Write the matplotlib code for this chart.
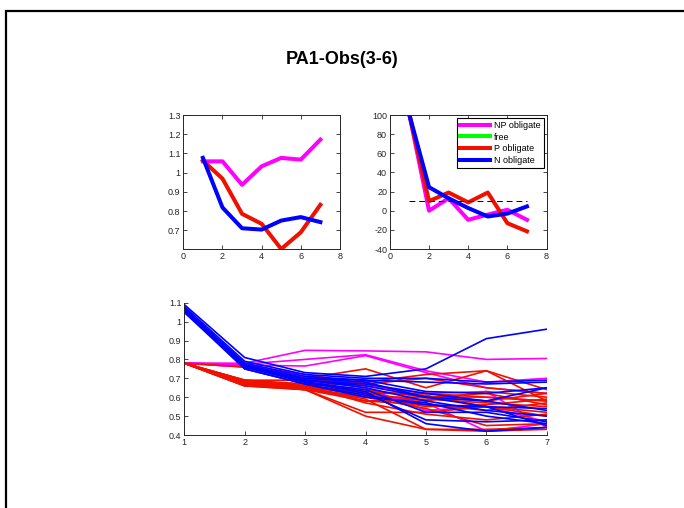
import matplotlib
matplotlib.use('Agg')
import matplotlib.pyplot as plt
from matplotlib.patches import Rectangle

plt.rcParams['font.family'] = ['Liberation Sans', 'DejaVu Sans']
plt.rcParams['xtick.direction'] = 'in'
plt.rcParams['ytick.direction'] = 'in'
plt.rcParams['axes.unicode_minus'] = False

# DATA
x = [1, 2, 3, 4, 5, 6, 7]

# top left: group means
np_mean = [1.059, 1.059, 0.937, 1.033, 1.077, 1.068, 1.172]
p_mean = [1.063, 0.969, 0.786, 0.734, 0.603, 0.690, 0.833]
n_mean = [1.077, 0.819, 0.711, 0.704, 0.751, 0.769, 0.743]

# top right: percent change
np_pct = [100, 0, 13, -9.5, -4, 1, -9.5]
free_pct = []
p_pct = [100, 10, 19, 8.7, 19, -13, -21.5]
n_pct = [100, 24.6, 13, 2.8, -6, -3, 4.5]
thresh = 10

# bottom: individual series
np_lines = [
    [0.78, 0.78, 0.848, 0.845, 0.84, 0.80, 0.805],
    [0.78, 0.775, 0.80, 0.825, 0.74, 0.68, 0.70],
    [0.78, 0.77, 0.765, 0.82, 0.73, 0.65, 0.62],
    [0.78, 0.77, 0.72, 0.67, 0.60, 0.60, 0.58],
    [0.78, 0.76, 0.70, 0.65, 0.53, 0.55, 0.47],
    [0.78, 0.76, 0.69, 0.62, 0.57, 0.42, 0.46],
    [0.78, 0.77, 0.71, 0.66, 0.62, 0.63, 0.44],
]
p_lines = [
    [0.78, 0.76, 0.70, 0.75, 0.65, 0.74, 0.64],
    [0.78, 0.69, 0.69, 0.68, 0.72, 0.74, 0.58],
    [0.78, 0.68, 0.67, 0.67, 0.70, 0.65, 0.62],
    [0.78, 0.67, 0.66, 0.62, 0.62, 0.60, 0.58],
    [0.78, 0.67, 0.65, 0.60, 0.60, 0.62, 0.56],
    [0.78, 0.66, 0.65, 0.58, 0.59, 0.57, 0.55],
    [0.78, 0.67, 0.64, 0.52, 0.52, 0.55, 0.52],
    [0.78, 0.66, 0.64, 0.50, 0.43, 0.43, 0.44],
    [0.78, 0.67, 0.65, 0.59, 0.43, 0.42, 0.43],
    [0.78, 0.69, 0.66, 0.57, 0.51, 0.48, 0.51],
    [0.78, 0.68, 0.65, 0.62, 0.58, 0.63, 0.60],
    [0.78, 0.67, 0.66, 0.61, 0.55, 0.56, 0.59],
    [0.78, 0.68, 0.64, 0.60, 0.54, 0.45, 0.46],
    [0.78, 0.69, 0.67, 0.64, 0.60, 0.58, 0.62],
    [0.78, 0.66, 0.64, 0.58, 0.56, 0.53, 0.57],
    [0.78, 0.68, 0.66, 0.63, 0.61, 0.55, 0.50],
]
n_lines = [
    [1.09, 0.81, 0.73, 0.71, 0.75, 0.91, 0.96],
    [1.08, 0.79, 0.72, 0.70, 0.70, 0.68, 0.69],
    [1.07, 0.78, 0.71, 0.69, 0.68, 0.67, 0.68],
    [1.07, 0.77, 0.70, 0.69, 0.63, 0.62, 0.65],
    [1.06, 0.77, 0.70, 0.68, 0.60, 0.58, 0.65],
    [1.06, 0.76, 0.69, 0.66, 0.60, 0.55, 0.54],
    [1.06, 0.76, 0.69, 0.65, 0.58, 0.53, 0.50],
    [1.05, 0.76, 0.68, 0.64, 0.52, 0.52, 0.47],
    [1.06, 0.76, 0.68, 0.63, 0.46, 0.42, 0.44],
    [1.07, 0.77, 0.68, 0.62, 0.48, 0.47, 0.48],
    [1.06, 0.75, 0.67, 0.60, 0.57, 0.50, 0.46],
    [1.05, 0.75, 0.67, 0.61, 0.56, 0.55, 0.45],
    [1.06, 0.76, 0.69, 0.67, 0.62, 0.58, 0.53],
]

MAG = '#FF00FF'
RED = '#F01000'
BLUE = '#0000FF'
GREEN = '#00FF00'
TICK_FS = 6.5

fig = plt.figure(figsize=(6.84, 5.08), dpi=100)

# outer frame like the exported figure window
fig.patches.append(Rectangle((6 / 684, -0.1), 1.1, (508 - 11) / 508 + 0.1,
                             transform=fig.transFigure, fill=False,
                             edgecolor='black', linewidth=1.6, zorder=0))

fig.text(0.5, 1 - 60 / 508, 'PA1-Obs(3-6)', ha='center', va='center',
         fontsize=13, fontweight='bold')


def style(ax, box=True):
    ax.tick_params(labelsize=TICK_FS, length=3, width=0.6, pad=2,
                   top=box, right=box, colors='#262626')
    for s in ax.spines.values():
        s.set_linewidth(0.7)
        s.set_color('#262626')
    if not box:
        ax.spines['top'].set_visible(False)
        ax.spines['right'].set_visible(False)


# top left
ax1 = fig.add_axes([0.268, 0.5098, 0.229, 0.2638])
ax1.plot(x, np_mean, color=MAG, lw=2.9)
ax1.plot(x, p_mean, color=RED, lw=2.9)
ax1.plot(x, n_mean, color=BLUE, lw=2.9)
ax1.set_xlim(0, 8)
ax1.set_ylim(0.603, 1.3)
ax1.set_xticks([0, 2, 4, 6, 8])
ax1.set_yticks([0.7, 0.8, 0.9, 1.0, 1.1, 1.2, 1.3])
ax1.set_yticklabels(['0.7', '0.8', '0.9', '1', '1.1', '1.2', '1.3'])
style(ax1)

# top right
ax2 = fig.add_axes([0.570, 0.5098, 0.229, 0.2638])
ax2.plot(x, np_pct, color=MAG, lw=2.9, label='NP obligate')
ax2.plot(x[:len(free_pct)], free_pct, color=GREEN, lw=2.9, label='free')
ax2.plot(x, p_pct, color=RED, lw=2.9, label='P obligate')
ax2.plot(x, n_pct, color=BLUE, lw=2.9, label='N obligate')
ax2.plot([x[0], x[-1]], [thresh, thresh], color='black', lw=0.7,
         ls=(0, (6, 4)))
ax2.set_xlim(0, 8)
ax2.set_ylim(-40, 100)
ax2.set_xticks([0, 2, 4, 6, 8])
ax2.set_yticks(range(-40, 101, 20))
style(ax2)
leg = ax2.legend(loc='upper right', fontsize=6.5, handlelength=3.4,
                 handletextpad=0.4, borderpad=0.35, labelspacing=0.3,
                 borderaxespad=0.3, fancybox=False, framealpha=1)
leg.get_frame().set_edgecolor('black')
leg.get_frame().set_linewidth(0.8)

# bottom
ax3 = fig.add_axes([0.2694, 0.1437, 0.530, 0.2604])
for ln in np_lines:
    ax3.plot(x, ln, color=MAG, lw=1.2)
for ln in p_lines:
    ax3.plot(x, ln, color=RED, lw=1.2)
for ln in n_lines:
    ax3.plot(x, ln, color=BLUE, lw=1.2)
ax3.set_xlim(1, 7)
ax3.set_ylim(0.4, 1.1)
ax3.set_xticks(x)
ax3.set_yticks([0.4, 0.5, 0.6, 0.7, 0.8, 0.9, 1.0, 1.1])
ax3.set_yticklabels(['0.4', '0.5', '0.6', '0.7', '0.8', '0.9', '1', '1.1'])
style(ax3, box=False)

fig.savefig('out.png', dpi=100)
